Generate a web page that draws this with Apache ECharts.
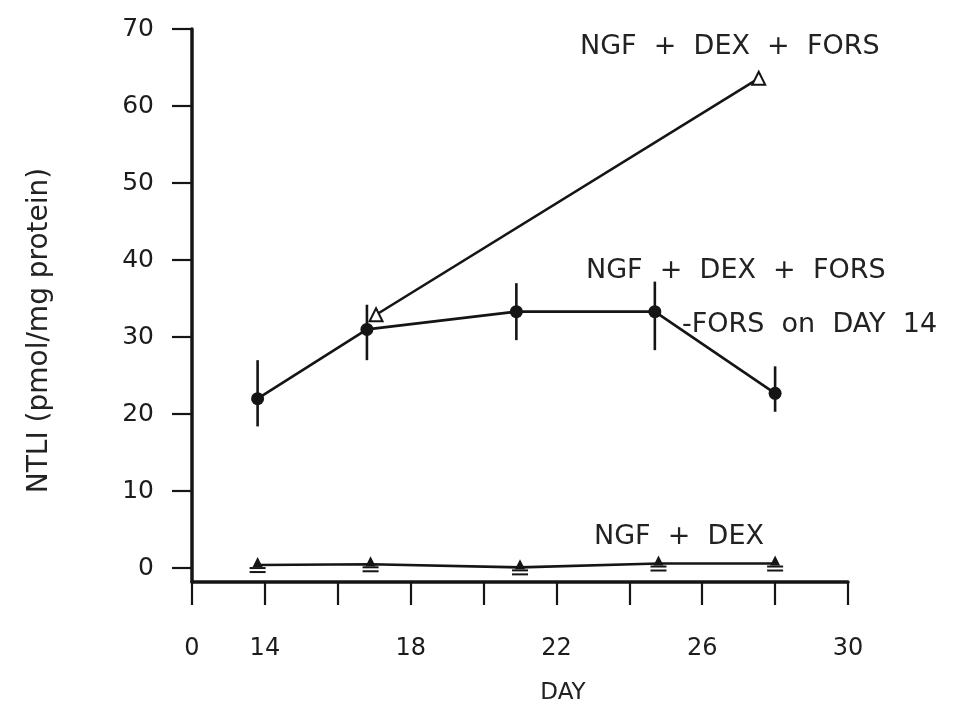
<!DOCTYPE html>
<html>
<head>
<meta charset="utf-8">
<script src="https://cdn.jsdelivr.net/npm/echarts@6/dist/echarts.min.js"></script>
<style>
  html, body { margin: 0; padding: 0; background: #fff; }
  #chart { width: 969px; height: 711px; }
</style>
</head>
<body>
<div id="chart"></div>
<script>
// ---- data ----
// NGF + DEX + FORS, then -FORS on day 14 (filled circles, with error bars)
const withdrawnDays  = [13.8, 16.8, 20.9, 24.7, 28.0];
const withdrawnMean  = [22.0, 31.0, 33.3, 33.3, 22.7];
const withdrawnLow   = [18.4, 27.0, 29.6, 28.3, 20.3];
const withdrawnHigh  = [27.0, 34.2, 37.0, 37.2, 26.2];
// NGF + DEX + FORS (open triangles)
const forsDays   = [17.05, 27.55];
const forsValues = [32.9, 63.6];
// NGF + DEX (filled triangles)
const ngfDexDays   = [13.8, 16.9, 21.0, 24.8, 28.0];
const ngfDexValues = [0.4, 0.5, 0.1, 0.6, 0.6];
// axis ticks
const xTickLabels = {12: '0', 14: '14', 18: '18', 22: '22', 26: '26', 30: '30'};
const yTickValues = [0, 10, 20, 30, 40, 50, 60, 70];
const labels = {
  fors: 'NGF  +  DEX  +  FORS',
  withdrawn1: 'NGF  +  DEX  +  FORS',
  withdrawn2: '-FORS  on  DAY  14',
  ngfDex: 'NGF  +  DEX',
  xName: 'DAY',
  yName: 'NTLI (pmol/mg protein)'
};

const ink = '#151515';
const FONT = 'DejaVu Sans';
const annFont = '27px "DejaVu Sans"';

const zip = (a, b) => a.map((v, i) => [v, b[i]]);

const chart = echarts.init(document.getElementById('chart'));
chart.setOption({
  backgroundColor: '#fff',
  animation: false,
  grid: { left: 192, right: 121, top: 29, bottom: 129 },
  xAxis: {
    type: 'value',
    min: 12, max: 30, interval: 2,
    name: labels.xName,
    nameLocation: 'middle',
    nameGap: 100,
    nameTextStyle: { fontFamily: FONT, fontSize: 23, color: '#222', padding: [0, 0, 0, 86] },
    axisLine: { onZero: false, lineStyle: { color: ink, width: 3.5 } },
    axisTick: { length: 23, lineStyle: { color: ink, width: 2.2 } },
    axisLabel: {
      margin: 55,
      fontFamily: FONT, fontSize: 24, color: '#1c1c1c',
      formatter: v => (xTickLabels[v] !== undefined ? xTickLabels[v] : '')
    },
    splitLine: { show: false }
  },
  yAxis: {
    type: 'value',
    min: -1.8, max: 70,
    name: labels.yName,
    nameLocation: 'middle',
    nameGap: 138,
    nameTextStyle: { fontFamily: FONT, fontSize: 28, color: '#222', padding: [0, 50, 0, 0] },
    axisLine: { lineStyle: { color: ink, width: 3.5 } },
    axisTick: { length: 20, customValues: yTickValues, lineStyle: { color: ink, width: 2.2 } },
    axisLabel: {
      margin: 38, customValues: yTickValues,
      fontFamily: FONT, fontSize: 25, color: '#1c1c1c'
    },
    splitLine: { show: false }
  },
  graphic: [
    { type: 'text', left: 580, top: 33, style: { text: labels.fors, fill: '#222', font: annFont } },
    { type: 'text', left: 586, top: 257, style: { text: labels.withdrawn1, fill: '#222', font: annFont } },
    { type: 'text', left: 682, top: 311, style: { text: labels.withdrawn2, fill: '#222', font: annFont } },
    { type: 'text', left: 594, top: 523, style: { text: labels.ngfDex, fill: '#222', font: annFont } }
  ],
  series: [
    {
      name: 'NGF + DEX + FORS',
      type: 'line',
      data: zip(forsDays, forsValues),
      lineStyle: { color: ink, width: 2.6 },
      symbol: 'triangle', symbolSize: 13,
      itemStyle: { color: '#fff', borderColor: ink, borderWidth: 2 },
      z: 3
    },
    {
      name: 'NGF + DEX + FORS, -FORS on DAY 14',
      type: 'line',
      data: zip(withdrawnDays, withdrawnMean),
      lineStyle: { color: ink, width: 2.6 },
      symbol: 'circle', symbolSize: 13,
      itemStyle: { color: ink },
      z: 4
    },
    {
      name: 'error bars',
      type: 'custom',
      data: withdrawnDays.map((d, i) => [d, withdrawnLow[i], withdrawnHigh[i]]),
      renderItem: (params, api) => {
        const lo = api.coord([api.value(0), api.value(1)]);
        const hi = api.coord([api.value(0), api.value(2)]);
        return {
          type: 'line',
          shape: { x1: lo[0], y1: lo[1], x2: hi[0], y2: hi[1] },
          style: { stroke: ink, lineWidth: 2.6 }
        };
      },
      z: 5
    },
    {
      name: 'NGF + DEX',
      type: 'line',
      data: zip(ngfDexDays, ngfDexValues),
      lineStyle: { color: ink, width: 2.6 },
      symbol: 'triangle', symbolSize: 10, symbolOffset: [0, -3],
      itemStyle: { color: ink },
      z: 3
    },
    {
      name: 'NGF + DEX SEM',
      type: 'custom',
      data: zip(ngfDexDays, ngfDexValues),
      renderItem: (params, api) => {
        const p = api.coord([api.value(0), api.value(1)]);
        return {
          type: 'group',
          children: [
            { type: 'line', shape: { x1: p[0] - 8, y1: p[1] + 3, x2: p[0] + 8, y2: p[1] + 3 }, style: { stroke: ink, lineWidth: 2 } },
            { type: 'line', shape: { x1: p[0] - 8, y1: p[1] + 7, x2: p[0] + 8, y2: p[1] + 7 }, style: { stroke: ink, lineWidth: 2 } }
          ]
        };
      },
      z: 5
    }
  ]
});
</script>
</body>
</html>
